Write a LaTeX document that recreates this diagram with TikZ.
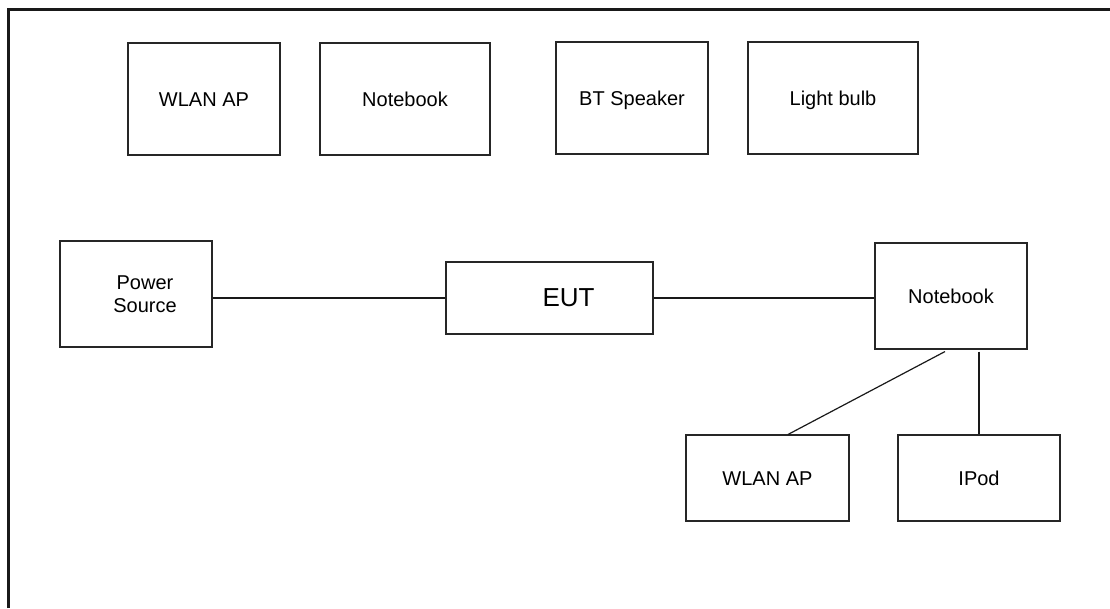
\documentclass[tikz,border=0pt]{standalone}
\usepackage{fontspec}
\setmainfont{Liberation Sans}
\begin{document}
\begin{tikzpicture}[x=0.75pt,y=-0.75pt,
  box/.style={draw=black!85, line width=0.8pt, inner sep=0pt,
    text height=11pt, text depth=0pt,
    font=\fontsize{15pt}{17.25pt}\selectfont},
  wire/.style={draw=black!90, line width=0.9pt},
  frame/.style={draw=black!90, line width=2pt}]
\useasboundingbox (0,0) rectangle (1110,608);
\draw[frame] (8.5,608) -- (8.5,9.3) -- (1110,9.3);
% top row
\node[box, minimum width=152*0.75pt, minimum height=112*0.75pt] (wlan1) at (204,99) {WLAN AP};
\node[box, minimum width=170*0.75pt, minimum height=112*0.75pt] (nb1) at (405,99) {Notebook};
\node[box, minimum width=152*0.75pt, minimum height=112*0.75pt] (bt) at (632,98) {BT Speaker};
\node[box, minimum width=170*0.75pt, minimum height=112*0.75pt] (lb) at (833,98) {Light bulb};
% middle row
\node[box, minimum width=152*0.75pt, minimum height=106*0.75pt,
  label={[align=center, font=\fontsize{15pt}{17.25pt}\selectfont, xshift=9*0.75pt]center:Power\\Source}] (ps) at (136,294) {};
\node[box, minimum width=207*0.75pt, minimum height=72*0.75pt,
  label={[font=\fontsize{19.5pt}{23pt}\selectfont, xshift=19*0.75pt]center:EUT}] (eut) at (549.5,298) {};
\node[box, minimum width=152*0.75pt, minimum height=106*0.75pt] (nb2) at (951,296) {Notebook};
% bottom row
\node[box, minimum width=163*0.75pt, minimum height=86*0.75pt] (wlan2) at (767.5,478) {WLAN AP};
\node[box, minimum width=162*0.75pt, minimum height=86*0.75pt] (ipod) at (979,478) {IPod};
% connectors
\draw[wire] (eut.west -| ps.east) -- (eut.west);
\draw[wire] (eut.east) -- (eut.east -| nb2.west);
\draw[wire] ([shift={(-6,2)}]nb2.south) -- ([shift={(20.5,0)}]wlan2.north);
\draw[wire] ([shift={(28,2)}]nb2.south) -- (ipod.north);
\end{tikzpicture}
\end{document}
